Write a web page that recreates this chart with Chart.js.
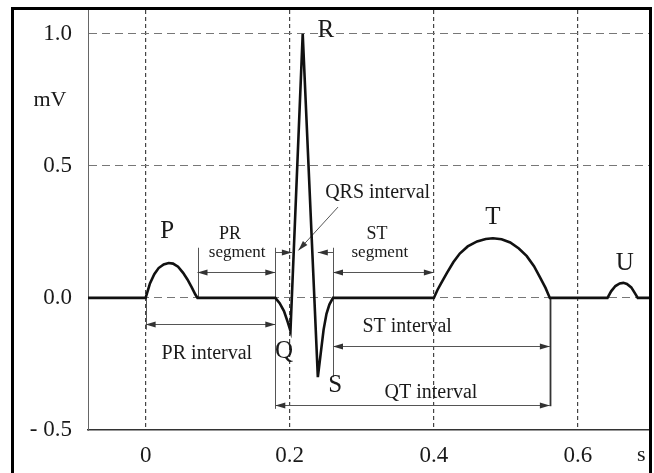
<!DOCTYPE html>
<html>
<head>
<meta charset="utf-8">
<script src="https://cdn.jsdelivr.net/npm/chart.js@4.4.1/dist/chart.umd.min.js"></script>
<style>
  html, body { margin: 0; padding: 0; background: #fff; }
  #wrap { position: relative; width: 654px; height: 473px; overflow: hidden; }
  #frame { position: absolute; left: 11px; top: 7px; width: 635px; height: 480px; border: 3px solid #000; pointer-events: none; }
</style>
</head>
<body>
<div id="wrap">
  <canvas id="ecg" width="654" height="473"></canvas>
  <div id="frame"></div>
</div>
<script>
// Данные кривой ЭКГ (время, с / напряжение, мВ)
const ECG_T = [
  -0.08, 0, 0.006, 0.012, 0.018, 0.025, 0.032, 0.038, 0.045, 0.052, 0.058, 0.064, 0.069, 0.072,
  0.18, 0.186, 0.192, 0.197, 0.201, 0.218, 0.239, 0.243, 0.247, 0.251, 0.255, 0.26,
  0.4, 0.405, 0.41, 0.418, 0.427, 0.436, 0.447, 0.46, 0.472, 0.482, 0.494, 0.506, 0.518, 0.529, 0.539, 0.547, 0.555, 0.561,
  0.641, 0.646, 0.652, 0.658, 0.663, 0.668, 0.674, 0.679, 0.683, 0.7
];
const ECG_MV = [
  0, 0, 0.055, 0.09, 0.113, 0.127, 0.132, 0.13, 0.118, 0.095, 0.07, 0.04, 0.013, 0,
  0, -0.02, -0.05, -0.09, -0.125, 1.0, -0.30, -0.21, -0.12, -0.06, -0.025, 0,
  0, 0.03, 0.055, 0.094, 0.135, 0.168, 0.195, 0.214, 0.223, 0.226, 0.222, 0.21, 0.187, 0.158, 0.12, 0.08, 0.038, 0,
  0, 0.025, 0.045, 0.055, 0.057, 0.053, 0.04, 0.018, 0, 0
];

// Оси
const X_TICKS = [0, 0.2, 0.4, 0.6];
const X_TICK_LABELS = ['0', '0.2', '0.4', '0.6'];
const Y_TICKS = [-0.5, 0, 0.5, 1.0];
const Y_TICK_LABELS = ['- 0.5', '0.0', '0.5', '1.0'];
const X_UNIT = 's';
const Y_UNIT = 'mV';

// Вертикальные отметки интервалов
const BRACKET_T    = [0, 0.072, 0.18, 0.26, 0.561];
const BRACKET_FROM = [0, 0.19, 0.19, 0.19, 0];
const BRACKET_TO   = [-0.12, 0, -0.42, -0.30, -0.41];

// Стрелки интервалов
const SPAN_FROM  = [0.072, 0.26, 0, 0.26, 0.18, 0.18, 0.26];
const SPAN_TO    = [0.18, 0.4, 0.18, 0.561, 0.561, 0.203, 0.239];
const SPAN_MV    = [0.10, 0.10, -0.10, -0.183, -0.405, 0.175, 0.175];
const SPAN_HEADS = ['both', 'both', 'both', 'both', 'both', 'end', 'end'];

// Выноска QRS
const LEADER_T  = [0.267, 0.212];
const LEADER_MV = [0.344, 0.18];

// Подписи
const LABEL_TEXT = ['P', 'R', 'Q', 'S', 'T', 'U', 'PR', 'segment', 'ST', 'segment', 'QRS interval', 'PR interval', 'ST interval', 'QT interval'];
const LABEL_T    = [0.030, 0.250, 0.192, 0.263, 0.482, 0.665, 0.117, 0.127, 0.321, 0.325, 0.322, 0.085, 0.363, 0.396];
const LABEL_MV   = [0.25, 1.013, -0.204, -0.33, 0.306, 0.132, 0.242, 0.17, 0.242, 0.17, 0.40, -0.212, -0.11, -0.36];

const SERIF = '"Liberation Serif", "DejaVu Serif", serif';

function labelSize(text) {
  if (text.length === 1) return 25;
  if (text === 'segment') return 17;
  if (text.length === 2) return 18;
  return 20;
}

function arrowHead(ctx, x, y, angle) {
  const len = 10, half = 3;
  ctx.save();
  ctx.translate(x, y);
  ctx.rotate(angle);
  ctx.beginPath();
  ctx.moveTo(0, 0);
  ctx.lineTo(-len, -half);
  ctx.lineTo(-len, half);
  ctx.closePath();
  ctx.fill();
  ctx.restore();
}

// без отступов под крайние подписи — область графика задаётся afterFit
function noEdgePadding(s) {
  s.paddingTop = 0;
  s.paddingBottom = 0;
  s.paddingLeft = 0;
  s.paddingRight = 0;
}

const ecgNotes = {
  id: 'ecgNotes',
  beforeDatasetsDraw(chart) {
    const { ctx, scales: { x, y } } = chart;
    ctx.save();
    ctx.fillStyle = '#333';

    BRACKET_T.forEach((t, i) => {
      const px = Math.round(x.getPixelForValue(t)) + 0.5;
      const last = i === BRACKET_T.length - 1;
      ctx.lineWidth = last ? 1.8 : 1;
      ctx.strokeStyle = last ? '#333' : '#555';
      ctx.beginPath();
      ctx.moveTo(px, y.getPixelForValue(BRACKET_FROM[i]));
      ctx.lineTo(px, y.getPixelForValue(BRACKET_TO[i]));
      ctx.stroke();
    });

    ctx.lineWidth = 1;
    ctx.strokeStyle = '#555';
    SPAN_FROM.forEach((t0, i) => {
      const x0 = x.getPixelForValue(t0);
      const x1 = x.getPixelForValue(SPAN_TO[i]);
      const py = Math.round(y.getPixelForValue(SPAN_MV[i])) + 0.5;
      ctx.beginPath();
      ctx.moveTo(x0, py);
      ctx.lineTo(x1, py);
      ctx.stroke();
      arrowHead(ctx, x1, py, x1 > x0 ? 0 : Math.PI);
      if (SPAN_HEADS[i] === 'both') arrowHead(ctx, x0, py, x1 > x0 ? Math.PI : 0);
    });

    const lx0 = x.getPixelForValue(LEADER_T[0]), ly0 = y.getPixelForValue(LEADER_MV[0]);
    const lx1 = x.getPixelForValue(LEADER_T[1]), ly1 = y.getPixelForValue(LEADER_MV[1]);
    ctx.beginPath();
    ctx.moveTo(lx0, ly0);
    ctx.lineTo(lx1, ly1);
    ctx.stroke();
    arrowHead(ctx, lx1, ly1, Math.atan2(ly1 - ly0, lx1 - lx0));
    ctx.restore();
  },
  afterDatasetsDraw(chart) {
    const { ctx, chartArea, scales: { x, y } } = chart;
    ctx.save();
    ctx.fillStyle = '#1a1a1a';
    ctx.textAlign = 'center';
    ctx.textBaseline = 'middle';
    LABEL_TEXT.forEach((txt, i) => {
      ctx.font = labelSize(txt) + 'px ' + SERIF;
      ctx.fillText(txt, x.getPixelForValue(LABEL_T[i]), y.getPixelForValue(LABEL_MV[i]));
    });
    // единицы осей
    ctx.font = '22px ' + SERIF;
    ctx.fillText(Y_UNIT, chartArea.left - 38, y.getPixelForValue(0.75));
    ctx.fillText(X_UNIT, x.getPixelForValue(0.688), chartArea.bottom + 25);
    ctx.restore();
  }
};

new Chart(document.getElementById('ecg'), {
  type: 'line',
  data: {
    datasets: [{
      data: ECG_T.map((t, i) => ({ x: t, y: ECG_MV[i] })),
      borderColor: '#111',
      borderWidth: 2.6,
      pointRadius: 0,
      tension: 0,
      fill: false,
    }],
  },
  options: {
    responsive: false,
    animation: false,
    devicePixelRatio: 1,
    layout: { padding: { top: 10, right: 4, left: 0, bottom: 0 } },
    plugins: { legend: { display: false }, tooltip: { enabled: false } },
    scales: {
      x: {
        type: 'linear',
        min: -0.08,
        max: 0.7,
        afterBuildTicks: s => { s.ticks = X_TICKS.map(v => ({ value: v })); },
        afterFit: s => { s.height = 43; noEdgePadding(s); },
        ticks: {
          padding: 12,
          color: '#1a1a1a',
          font: { family: SERIF, size: 23 },
          callback: v => X_TICK_LABELS[X_TICKS.indexOf(v)] ?? '',
        },
        grid: { color: '#444', lineWidth: 1.2, drawTicks: false },
        border: { display: true, color: '#333', width: 1.5, dash: [4, 3] },
      },
      y: {
        type: 'linear',
        min: -0.5,
        max: 1.09,
        afterBuildTicks: s => { s.ticks = Y_TICKS.map(v => ({ value: v })); },
        afterFit: s => { s.width = 88; noEdgePadding(s); },
        ticks: {
          padding: 16,
          color: '#1a1a1a',
          font: { family: SERIF, size: 23 },
          callback: v => Y_TICK_LABELS[Y_TICKS.indexOf(v)] ?? '',
        },
        grid: {
          color: c => (c.tick && c.tick.value === -0.5 ? 'rgba(0,0,0,0)' : '#777'),
          lineWidth: 1,
          drawTicks: false,
        },
        border: { display: true, color: '#666', width: 1, dash: [8, 5] },
      },
    },
  },
  plugins: [ecgNotes],
});
</script>
</body>
</html>
